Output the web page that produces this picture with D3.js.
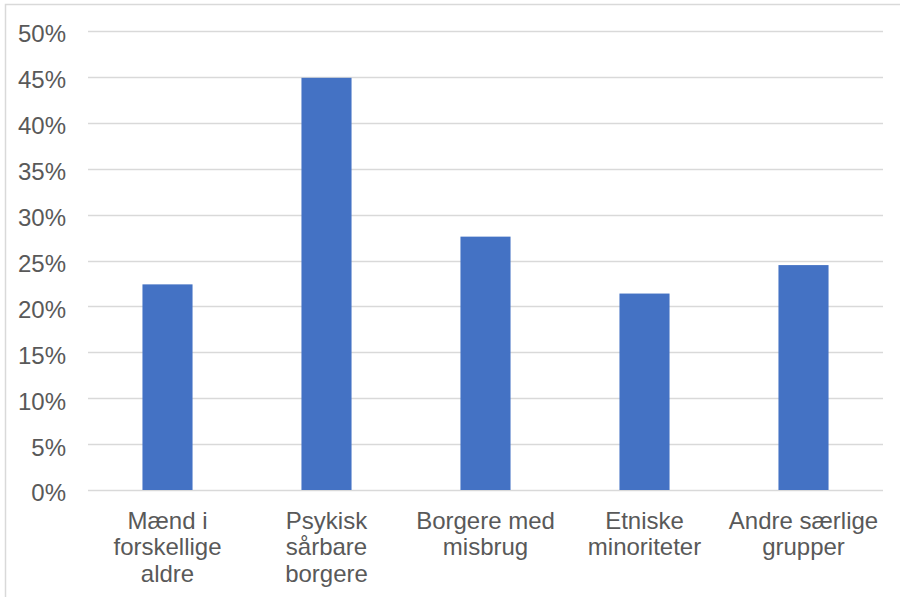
<!DOCTYPE html>
<html>
<head>
<meta charset="utf-8">
<script src="https://cdn.jsdelivr.net/npm/d3@7"></script>
<style>
  html, body { margin: 0; padding: 0; background: #fff; }
  svg { display: block; }
</style>
</head>
<body>
<svg id="chart" width="900" height="597"></svg>
<script>
// Share of respondents per target group
const categories = [
  ["Mænd i", "forskellige", "aldre"],
  ["Psykisk", "sårbare", "borgere"],
  ["Borgere med", "misbrug"],
  ["Etniske", "minoriteter"],
  ["Andre særlige", "grupper"]
];
const values = [0.224, 0.449, 0.276, 0.214, 0.245];
const yTicks = [0, 0.05, 0.10, 0.15, 0.20, 0.25, 0.30, 0.35, 0.40, 0.45, 0.50];

const W = 900, H = 597;
const margin = { left: 88, right: 17, top: 31, bottom: 107 };
const svg = d3.select("#chart");
const font = "'Liberation Sans', Arial, sans-serif";

// Chart area frame
svg.append("path")
  .attr("d", `M5.5,${H} V4.5 H${W}`)
  .attr("fill", "none")
  .attr("stroke", "#d9d9d9")
  .attr("stroke-width", 1.5);

const x = d3.scaleBand()
  .domain(d3.range(categories.length))
  .range([margin.left, W - margin.right])
  .padding(0);

const y = d3.scaleLinear()
  .domain([0, 0.5])
  .range([H - margin.bottom, margin.top]);

// Horizontal gridlines
svg.append("g")
  .selectAll("line")
  .data(yTicks)
  .join("line")
  .attr("x1", margin.left)
  .attr("x2", W - margin.right)
  .attr("y1", d => Math.round(y(d)) + 0.5)
  .attr("y2", d => Math.round(y(d)) + 0.5)
  .attr("stroke", "#d9d9d9")
  .attr("stroke-width", 1.5);

// Y axis labels
const yAxis = d3.axisLeft(y)
  .tickValues(yTicks)
  .tickFormat(d3.format(".0%"))
  .tickSize(0)
  .tickPadding(0);
const gy = svg.append("g")
  .attr("transform", "translate(66,2.5)")
  .call(yAxis);
gy.select(".domain").remove();
gy.selectAll("text")
  .attr("fill", "#595959")
  .style("font-family", font)
  .style("font-size", "24px")
  .attr("dy", "0.35em");

// Bars
const barW = x.bandwidth() * 0.315;
svg.append("g")
  .selectAll("rect")
  .data(values)
  .join("rect")
  .attr("x", (d, i) => x(i) + (x.bandwidth() - barW) / 2)
  .attr("y", d => y(d))
  .attr("width", barW)
  .attr("height", d => y(0) - y(d))
  .attr("fill", "#4472C4");

// Category labels
const labels = svg.append("g")
  .selectAll("text")
  .data(categories)
  .join("text")
  .attr("x", (d, i) => x(i) + x.bandwidth() / 2)
  .attr("y", 528.5)
  .attr("text-anchor", "middle")
  .attr("fill", "#595959")
  .style("font-family", font)
  .style("font-size", "24px");
labels.selectAll("tspan")
  .data(d => d)
  .join("tspan")
  .attr("x", function () { return d3.select(this.parentNode).attr("x"); })
  .attr("dy", (d, i) => i === 0 ? 0 : 26.5)
  .text(d => d);
</script>
</body>
</html>
